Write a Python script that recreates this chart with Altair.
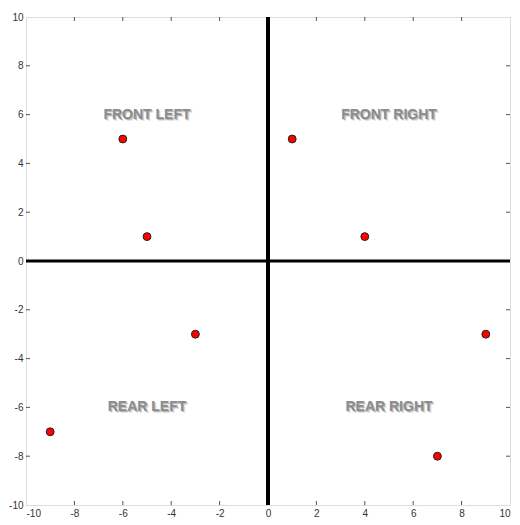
import altair as alt
import pandas as pd

# data
px = [-6, 1, -5, 4, -3, 9, -9, 7]
py = [5, 5, 1, 1, -3, -3, -7, -8]
labels = ["FRONT LEFT", "FRONT RIGHT", "REAR LEFT", "REAR RIGHT"]
lx = [-5, 5, -5, 5]
ly = [6, 6, -6, -6]
tick_vals = [-8, -6, -4, -2, 0, 2, 4, 6, 8]
axis_vals = [-10, -8, -6, -4, -2, 0, 2, 4, 6, 8, 10]

pts = pd.DataFrame({"x": px, "y": py})
lab = pd.DataFrame({"x": lx, "y": ly, "t": labels})
ticks = pd.DataFrame({"v": tick_vals})

W, H = 484, 488
xs = alt.Scale(domain=[-10, 10], nice=False, zero=False)
ys = alt.Scale(domain=[-10, 10], nice=False, zero=False)

axis_common = dict(
    values=axis_vals, grid=False, domain=False, ticks=False,
    labelFont="Liberation Sans", labelFontSize=10, labelColor="#333",
    title=None, labelExpr="'' + datum.value",
)
x_axis = alt.Axis(labelPadding=3, **axis_common)
y_axis = alt.Axis(labelPadding=3, **axis_common)

base = alt.Chart(pts).mark_point(opacity=0).encode(
    x=alt.X("x:Q", scale=xs, axis=x_axis),
    y=alt.Y("y:Q", scale=ys, axis=y_axis),
)

tick_color = "#555"
tx_top = alt.Chart(ticks).mark_rule(color=tick_color, strokeWidth=1).encode(
    x=alt.X("v:Q", scale=xs), y=alt.value(0), y2=alt.value(4))
tx_bot = alt.Chart(ticks).mark_rule(color=tick_color, strokeWidth=1).encode(
    x=alt.X("v:Q", scale=xs), y=alt.value(H), y2=alt.value(H - 4))
ty_left = alt.Chart(ticks).mark_rule(color=tick_color, strokeWidth=1).encode(
    y=alt.Y("v:Q", scale=ys), x=alt.value(0), x2=alt.value(4))
ty_right = alt.Chart(ticks).mark_rule(color=tick_color, strokeWidth=1).encode(
    y=alt.Y("v:Q", scale=ys), x=alt.value(W), x2=alt.value(W - 4))

zero = pd.DataFrame({"z": [0]})
vline = alt.Chart(zero).mark_rule(color="black", strokeWidth=4).encode(
    x=alt.X("z:Q", scale=xs))
hline = alt.Chart(zero).mark_rule(color="black", strokeWidth=3).encode(
    y=alt.Y("z:Q", scale=ys))

text_layers = []
for dx, dy, op in [(1, 1, 0.28), (2, 2, 0.12)]:
    text_layers.append(
        alt.Chart(lab).mark_text(
            font="Liberation Sans", fontSize=14, fontWeight="bold",
            color="#333", opacity=op, dx=dx, dy=dy, align="center",
            baseline="middle",
        ).encode(x=alt.X("x:Q", scale=xs), y=alt.Y("y:Q", scale=ys), text="t:N")
    )
text_main = alt.Chart(lab).mark_text(
    font="Liberation Sans", fontSize=14, fontWeight="bold",
    color="#8c8c8c", align="center", baseline="middle",
).encode(x=alt.X("x:Q", scale=xs), y=alt.Y("y:Q", scale=ys), text="t:N")

points = alt.Chart(pts).mark_circle(
    size=62, color="red", opacity=1, stroke="#222", strokeWidth=1
).encode(x=alt.X("x:Q", scale=xs), y=alt.Y("y:Q", scale=ys))

chart = alt.layer(
    base, tx_top, tx_bot, ty_left, ty_right, vline, hline,
    *text_layers, text_main, points,
).properties(
    width=W, height=H,
    autosize=alt.AutoSizeParams(type="none"),
    padding={"left": 18, "top": 9, "right": 2, "bottom": 12},
).configure_view(stroke="#555", strokeWidth=1).configure(background="white")

chart.save("out.html", embed_options={"renderer": "svg", "actions": False})
